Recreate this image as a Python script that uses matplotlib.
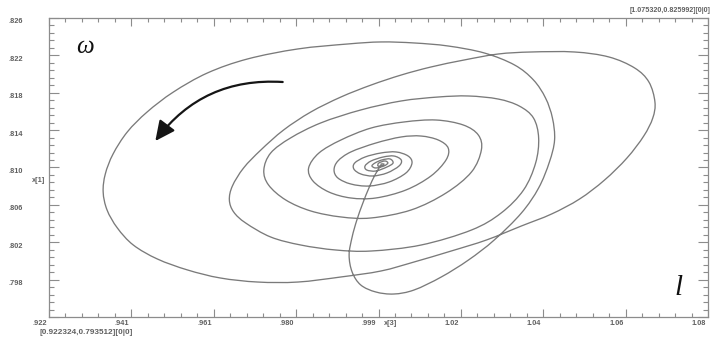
import numpy as np
import matplotlib
matplotlib.use("Agg")
import matplotlib.pyplot as plt
from matplotlib.path import Path
from matplotlib.patches import PathPatch

# Axis window of the phase plane: x[3] (horizontal) and x[1] (vertical)
x3_range = [0.922324, 1.075320]
x1_range = [0.793512, 0.825992]

xtick_labels = ['.922', '.941', '.961', '.980', '.999', '1.02', '1.04', '1.06', '1.08']
ytick_labels = ['', '.798', '.802', '.806', '.810', '.814', '.818', '.822', '.826']

# Trajectory samples (x[3], x[1]): fault excursion, then damped spiral back to equilibrium
x3 = [0.9994, 0.9980, 0.9966, 0.9952, 0.9938, 0.9927, 0.9920, 0.9927, 0.9947, 0.9982,
      1.0024, 1.0071, 1.0134, 1.0197, 1.0257, 1.0320, 1.0360, 1.0385, 1.0397, 1.0392,
      1.0376, 1.0348, 1.0304, 1.0234, 1.0150, 1.0071, 0.9994, 0.9917, 0.9801, 0.9684,
      0.9591, 0.9512, 0.9451, 0.9405, 0.9372, 0.9354, 0.9349, 0.9358, 0.9382, 0.9419,
      0.9475, 0.9545, 0.9621, 0.9708, 0.9801, 0.9901, 0.9994, 1.0071, 1.0157, 1.0239,
      1.0320, 1.0390, 1.0455, 1.0513, 1.0565, 1.0604, 1.0625, 1.0630, 1.0616, 1.0583,
      1.0523, 1.0443, 1.0343, 1.0266, 1.0187, 1.0110, 1.0041, 0.9971, 0.9901, 0.9831,
      0.9768, 0.9715, 0.9675, 0.9649, 0.9642, 0.9652, 0.9680, 0.9738, 0.9808, 0.9889,
      0.9971, 1.0087, 1.0204, 1.0273, 1.0325, 1.0353, 1.0360, 1.0348, 1.0315, 1.0266,
      1.0197, 1.0127, 1.0041, 0.9947, 0.9854, 0.9784, 0.9738, 0.9722, 0.9733, 0.9773,
      0.9831, 0.9901, 0.9971, 1.0064, 1.0145, 1.0204, 1.0227, 1.0220, 1.0185, 1.0122,
      1.0048, 0.9971, 0.9901, 0.9850, 0.9826, 0.9836, 0.9873, 0.9924, 0.9982, 1.0052,
      1.0110, 1.0145, 1.0150, 1.0127, 1.0087, 1.0041, 0.9982, 0.9924, 0.9894, 0.9885,
      0.9894, 0.9924, 0.9966, 1.0013, 1.0052, 1.0066, 1.0057, 1.0029, 0.9994, 0.9957,
      0.9933, 0.9931, 0.9947, 0.9975, 1.0008, 1.0036, 1.0041, 1.0024, 0.9999, 0.9971,
      0.9957, 0.9961, 0.9982, 1.0008, 1.0022, 1.0015, 0.9996, 0.9980, 0.9973, 0.9982,
      1.0001, 1.0010, 1.0003, 0.9989, 0.9987, 0.9996, 1.0001, 0.9994]
x1 = [0.81002, 0.80894, 0.80753, 0.80590, 0.80405, 0.80220, 0.80025, 0.79840, 0.79699, 0.79623,
      0.79601, 0.79645, 0.79786, 0.79970, 0.80188, 0.80481, 0.80753, 0.81035, 0.81274, 0.81513,
      0.81730, 0.81926, 0.82089, 0.82219, 0.82295, 0.82328, 0.82339, 0.82317, 0.82263, 0.82154,
      0.82002, 0.81795, 0.81578, 0.81361, 0.81122, 0.80905, 0.80709, 0.80514, 0.80318, 0.80133,
      0.79981, 0.79862, 0.79775, 0.79731, 0.79731, 0.79786, 0.79851, 0.79949, 0.80068, 0.80188,
      0.80340, 0.80470, 0.80633, 0.80839, 0.81078, 0.81317, 0.81513, 0.81687, 0.81904, 0.82056,
      0.82176, 0.82230, 0.82230, 0.82208, 0.82143, 0.82067, 0.81980, 0.81871, 0.81741, 0.81578,
      0.81383, 0.81165, 0.80970, 0.80774, 0.80622, 0.80492, 0.80372, 0.80220, 0.80133, 0.80079,
      0.80068, 0.80133, 0.80296, 0.80481, 0.80731, 0.81024, 0.81296, 0.81513, 0.81643, 0.81719,
      0.81752, 0.81741, 0.81698, 0.81600, 0.81459, 0.81296, 0.81133, 0.80948, 0.80785, 0.80622,
      0.80503, 0.80438, 0.80427, 0.80514, 0.80698, 0.80926, 0.81165, 0.81328, 0.81437, 0.81491,
      0.81470, 0.81404, 0.81274, 0.81133, 0.80970, 0.80829, 0.80709, 0.80644, 0.80644, 0.80731,
      0.80883, 0.81057, 0.81187, 0.81274, 0.81317, 0.81307, 0.81241, 0.81144, 0.81046, 0.80948,
      0.80861, 0.80796, 0.80774, 0.80818, 0.80916, 0.81024, 0.81100, 0.81144, 0.81133, 0.81089,
      0.81024, 0.80959, 0.80905, 0.80883, 0.80916, 0.80992, 0.81057, 0.81100, 0.81089, 0.81046,
      0.80992, 0.80948, 0.80937, 0.80981, 0.81024, 0.81068, 0.81057, 0.81024, 0.80992, 0.80970,
      0.80992, 0.81024, 0.81046, 0.81024, 0.80992, 0.80992, 0.81013, 0.81013]

# Direction-of-motion arrow: tail and head in (x[3], x[1])
arrow_tail = (0.97658, 0.81904)
arrow_head = (0.94701, 0.81263)


def smooth_path(xs, ys):
    """Catmull-Rom curve through the samples, as cubic Bezier segments."""
    p = np.column_stack([xs, ys])
    q = np.vstack([p[0], p, p[-1]])
    verts = [p[0]]
    codes = [Path.MOVETO]
    for i in range(1, len(q) - 2):
        p0, p1, p2, p3 = q[i - 1], q[i], q[i + 1], q[i + 2]
        verts += [p1 + (p2 - p0) / 6.0, p2 - (p3 - p1) / 6.0, p2]
        codes += [Path.CURVE4] * 3
    return Path(verts, codes)


W, H = 721, 339
fig = plt.figure(figsize=(W / 100, H / 100), dpi=100)
fig.patch.set_facecolor('white')
ax = fig.add_axes([49 / W, (H - 317) / H, (708 - 49) / W, (317 - 18) / H])
ax.set_xlim(*x3_range)
ax.set_ylim(*x1_range)

frame_col = '#8c8c8c'
text_col = '#606060'
for s in ax.spines.values():
    s.set_color(frame_col)
    s.set_linewidth(0.9)

xt = np.linspace(x3_range[0], x3_range[1], 9)
yt = np.linspace(x1_range[0], x1_range[1], 9)
ax.set_xticks(xt)
ax.set_yticks(yt)
ax.set_xticks(np.linspace(x3_range[0], x3_range[1], 41), minor=True)
ax.set_yticks(np.linspace(x1_range[0], x1_range[1], 41), minor=True)
ax.tick_params(which='both', direction='in', top=True, right=True,
               labelbottom=False, labelleft=False, color=frame_col, width=0.8)
ax.tick_params(axis='x', which='major', length=6)
ax.tick_params(axis='x', which='minor', length=3)
ax.tick_params(axis='y', which='major', length=7.5)
ax.tick_params(axis='y', which='minor', length=3.5)

lab_font = dict(family='Liberation Sans', fontsize=5.3, fontweight='bold', color=text_col)
for xv, lab in zip(xt, xtick_labels):
    ax.annotate(lab, xy=(xv, 0), xycoords=('data', 'axes fraction'),
                xytext=(-1.5, -4.5), textcoords='offset points',
                ha='right', va='center', **lab_font)
for yv, lab in zip(yt, ytick_labels):
    if lab:
        ax.annotate(lab, xy=(0, yv), xycoords=('axes fraction', 'data'),
                    xytext=(-18.5, -2.8), textcoords='offset points',
                    ha='right', va='center', **lab_font)

ax.annotate('x[1]', xy=(0, 0.455), xycoords='axes fraction', xytext=(-3, 0),
            textcoords='offset points', ha='right', va='center', **lab_font)
ax.annotate('x[3]', xy=(0.519, 0), xycoords='axes fraction', xytext=(0, -4.5),
            textcoords='offset points', ha='center', va='center', **lab_font)

corner = dict(family='Liberation Sans', fontweight='bold', color=text_col)
fig.text(710 / W, 1 - 11 / H, '[%.6f,%.6f][0|0]' % (x3_range[1], x1_range[1]),
         ha='right', va='center', fontsize=5.1, **corner)
fig.text(39 / W, 1 - 332 / H, '[%.6f,%.6f][0|0]' % (x3_range[0], x1_range[0]),
         ha='left', va='center', fontsize=5.9, **corner)

# Trajectory
ax.add_patch(PathPatch(smooth_path(x3, x1), fill=False, edgecolor='#7a7a7a',
                       linewidth=0.95, capstyle='round', joinstyle='round'))

# Direction arrow
ax.annotate('', xy=arrow_head, xytext=arrow_tail,
            arrowprops=dict(arrowstyle='-|>,head_length=1.0,head_width=0.48',
                            mutation_scale=12, color='#151515', lw=1.6,
                            shrinkA=0, shrinkB=0,
                            connectionstyle='arc3,rad=0.27'))

# Variable symbols
fig.text(85 / W, 1 - 47 / H, '\u03c9', family='Liberation Serif', style='italic',
         fontsize=18, color='#111111', ha='center', va='center')
fig.text(679 / W, 1 - 288 / H, 'l', family='Liberation Serif', style='italic',
         fontsize=21, color='#111111', ha='center', va='center')

fig.savefig('out.png', dpi=100, facecolor='white')
